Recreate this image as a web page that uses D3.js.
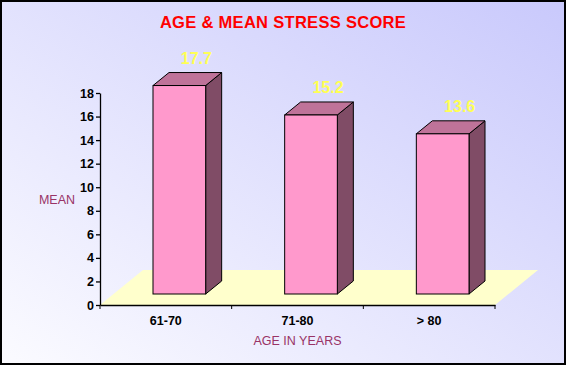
<!DOCTYPE html>
<html>
<head>
<meta charset="utf-8">
<script src="https://cdn.jsdelivr.net/npm/d3@7"></script>
<style>
  html, body { margin: 0; padding: 0; background: #fff; }
  svg { display: block; font-family: Arial, "Liberation Sans", sans-serif; }
</style>
</head>
<body>
<div id="chart"></div>
<script>
const CATEGORIES = ["61-70", "71-80", "> 80"]
const MEAN_SCORES = [17.7, 15.2, 13.6]
const Y_TICKS = [0, 2, 4, 6, 8, 10, 12, 14, 16, 18]

const W = 566, H = 365
const plot = {left: 100, right: 495, top: 93, bottom: 305}
// 3d offsets (floor depth, bar recess, bar depth)
const floorD = {dx: 43, dy: -35}
const recess = {dx: 13.5, dy: -11}
const barD = {dx: 16, dy: -13}

let svg = d3.select("#chart").append("svg")
    .attr("width", W)
    .attr("height", H);

let defs = svg.append("defs");
let grad = defs.append("linearGradient")
    .attr("id", "bg")
    .attr("x1", "0%").attr("y1", "100%")
    .attr("x2", "100%").attr("y2", "0%");
grad.append("stop").attr("offset", "0%").attr("stop-color", "#fbfbff");
grad.append("stop").attr("offset", "100%").attr("stop-color", "#c9c9fc");

svg.append("rect")
    .attr("x", 1).attr("y", 1)
    .attr("width", W - 2).attr("height", H - 2)
    .attr("fill", "url(#bg)")
    .attr("stroke", "#000")
    .attr("stroke-width", 2);

let x = d3.scaleBand()
    .domain(CATEGORIES)
    .range([plot.left, plot.right])
    .padding(0);

let y = d3.scaleLinear()
    .domain([0, 18])
    .range([plot.bottom, plot.top]);

// floor
svg.append("polygon")
    .attr("points", [
        [plot.left, y(0)],
        [plot.right, y(0)],
        [plot.right + floorD.dx, y(0) + floorD.dy],
        [plot.left + floorD.dx, y(0) + floorD.dy]
    ].map(p => p.join(",")).join(" "))
    .attr("fill", "#ffffcc");

// bars
let barW = x.bandwidth() * 0.4;
let data = CATEGORIES.map((c, i) => ({cat: c, val: MEAN_SCORES[i]}));

let bars = svg.selectAll(".bar")
    .data(data)
    .enter()
    .append("g")
    .attr("class", "bar");

bars.each(function(d) {
    let g = d3.select(this);
    let x0 = x(d.cat) + (x.bandwidth() - barW) / 2 + recess.dx;
    let x1 = x0 + barW;
    let yb = y(0) + recess.dy;
    let yt = y(d.val) + recess.dy;
    let pts = a => a.map(p => p.join(",")).join(" ");

    g.append("polygon")
        .attr("points", pts([[x1, yt], [x1 + barD.dx, yt + barD.dy], [x1 + barD.dx, yb + barD.dy], [x1, yb]]))
        .attr("fill", "#804c66")
        .attr("stroke", "#000").attr("stroke-width", 1).attr("stroke-linejoin", "round");
    g.append("polygon")
        .attr("points", pts([[x0, yt], [x0 + barD.dx, yt + barD.dy], [x1 + barD.dx, yt + barD.dy], [x1, yt]]))
        .attr("fill", "#bf7399")
        .attr("stroke", "#000").attr("stroke-width", 1).attr("stroke-linejoin", "round");
    g.append("rect")
        .attr("x", x0).attr("y", yt)
        .attr("width", barW).attr("height", yb - yt)
        .attr("fill", "#ff99cc")
        .attr("stroke", "#000").attr("stroke-width", 1);

    g.append("text")
        .attr("x", (x0 + x1) / 2 + 17)
        .attr("y", yt - 22)
        .attr("text-anchor", "middle")
        .attr("font-size", "16px")
        .attr("font-weight", "bold")
        .attr("fill", "#ffff55")
        .text(d.val);
});

// y axis
let yAxis = svg.append("g")
    .attr("transform", "translate(" + plot.left + ",0)")
    .call(d3.axisLeft(y).tickValues(Y_TICKS).tickSize(4).tickPadding(2).tickSizeOuter(0));
yAxis.selectAll("text")
    .attr("font-size", "12.5px")
    .attr("font-weight", "bold")
    .attr("fill", "#000")
    .attr("font-family", "Arial, 'Liberation Sans', sans-serif");
yAxis.selectAll("line, path").attr("stroke", "#000").attr("stroke-width", 1.3);

// x axis
let xAxis = svg.append("g")
    .attr("transform", "translate(0," + y(0) + ")")
    .call(d3.axisBottom(x).tickSize(0).tickPadding(11).tickSizeOuter(0));
xAxis.selectAll("text")
    .attr("font-size", "12.5px")
    .attr("font-weight", "bold")
    .attr("fill", "#000")
    .attr("font-family", "Arial, 'Liberation Sans', sans-serif");
xAxis.select("path").attr("stroke", "#000").attr("stroke-width", 1.3);

let bounds = CATEGORIES.map(c => x(c)).concat([plot.right]);
xAxis.selectAll(".bound")
    .data(bounds)
    .enter()
    .append("line")
    .attr("class", "bound")
    .attr("x1", d => d).attr("x2", d => d)
    .attr("y1", 0).attr("y2", 4)
    .attr("stroke", "#000");

// titles
svg.append("text")
    .attr("x", 283).attr("y", 28)
    .attr("text-anchor", "middle")
    .attr("font-size", "16.5px")
    .attr("letter-spacing", "0.3px")
    .attr("font-weight", "bold")
    .attr("fill", "#ff0000")
    .text("AGE & MEAN STRESS SCORE");

svg.append("text")
    .attr("x", 57).attr("y", 204)
    .attr("text-anchor", "middle")
    .attr("font-size", "12.5px")
    .attr("fill", "#993366")
    .text("MEAN");

svg.append("text")
    .attr("x", (plot.left + plot.right) / 2).attr("y", 345)
    .attr("text-anchor", "middle")
    .attr("font-size", "12.5px")
    .attr("fill", "#993366")
    .text("AGE IN YEARS");
</script>
</body>
</html>
